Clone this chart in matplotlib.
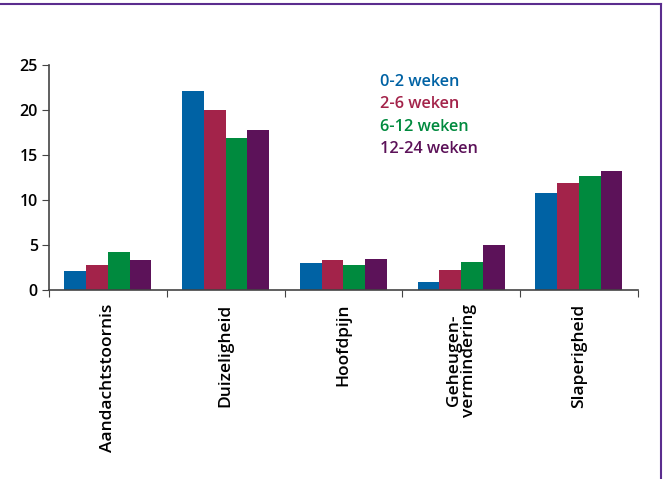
import matplotlib
matplotlib.use('Agg')
import matplotlib.pyplot as plt
from matplotlib.lines import Line2D
from matplotlib.ticker import FixedLocator, NullFormatter
import numpy as np

categories = ['Aandachtstoornis', 'Duizeligheid', 'Hoofdpijn', 'Geheugen-\nvermindering', 'Slaperigheid']
series_names = ['0-2 weken', '2-6 weken', '6-12 weken', '12-24 weken']
values_0_2 = [2.1, 22.1, 3.0, 0.9, 10.8]
values_2_6 = [2.8, 20.0, 3.3, 2.2, 11.9]
values_6_12 = [4.2, 16.9, 2.8, 3.1, 12.7]
values_12_24 = [3.3, 17.8, 3.4, 5.0, 13.2]
colors = ['#0062A4', '#A3234A', '#008A3E', '#5C1259']
y_ticks = [0, 5, 10, 15, 20, 25]

plt.rcParams['font.family'] = ['Open Sans', 'DejaVu Sans']

fig = plt.figure(figsize=(6.63, 4.79), dpi=100)
ax = fig.add_axes([0.0739, 0.3946, 0.8881, 0.4697])

x = np.arange(len(categories))
width = 0.185
all_series = [values_0_2, values_2_6, values_6_12, values_12_24]
for i, (vals, col) in enumerate(zip(all_series, colors)):
    ax.bar(x + (i - 1.5) * width, vals, width, color=col, label=series_names[i])

ax.set_xlim(-0.5, len(categories) - 0.5)
ax.set_ylim(0, 25)
ax.set_yticks(y_ticks)
ax.set_yticklabels([str(t) for t in y_ticks], fontsize=11.5, fontweight='semibold')

# ticks at the category boundaries, labels at the centres
ax.xaxis.set_major_locator(FixedLocator(np.arange(-0.5, len(categories), 1.0)))
ax.xaxis.set_major_formatter(NullFormatter())
ax.xaxis.set_minor_locator(FixedLocator(x))
ax.set_xticklabels(categories, minor=True, rotation=90, fontsize=12.5,
                   fontweight='semibold', va='top', ha='center', linespacing=0.9)
ax.tick_params(axis='x', which='minor', length=0, pad=10)
ax.tick_params(axis='x', which='major', length=5, direction='out', color='#444444')
ax.tick_params(axis='y', length=5, direction='out', color='#444444', pad=3)

for s in ['top', 'right']:
    ax.spines[s].set_visible(False)
for s in ['left', 'bottom']:
    ax.spines[s].set_color('#444444')
    ax.spines[s].set_linewidth(1.2)

# legend as coloured text
for i, (name, col) in enumerate(zip(series_names, colors)):
    fig.text(0.573, 0.829 - i * 0.047, name, color=col, fontsize=11.7,
             fontweight='semibold', va='center', ha='left')

# frame lines of the box
fig.add_artist(Line2D([0, 0.997], [0.991, 0.991], color='#5B2D8E', lw=1.5, transform=fig.transFigure))
fig.add_artist(Line2D([0.997, 0.997], [0, 0.991], color='#5B2D8E', lw=1.5, transform=fig.transFigure))

fig.savefig('out.png', dpi=100)
